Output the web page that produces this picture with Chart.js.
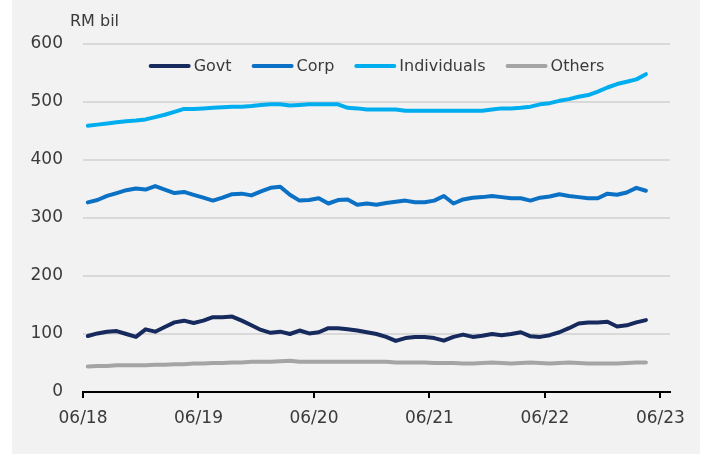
<!DOCTYPE html>
<html>
<head>
<meta charset="utf-8">
<script src="https://cdn.jsdelivr.net/npm/chart.js@4.4.1/dist/chart.umd.min.js"></script>
<style>
  html, body { margin: 0; padding: 0; background: #ffffff; }
  #wrap { position: absolute; left: 12px; top: 0; width: 688px; height: 454px; background: #f2f2f2; }
</style>
</head>
<body>
<div id="wrap"><canvas id="holdingsChart"></canvas></div>
<script>
// Drzanje po sektorima, mjesecno od 06/18 (RM bil)
const unitLabel = 'RM bil';
const xTickLabels = ['06/18', '06/19', '06/20', '06/21', '06/22', '06/23'];

const govt = [96.5, 101, 104, 105, 100, 95, 108, 104, 112, 120, 123, 119, 123, 129, 129, 130, 123, 115, 107, 102,
  104, 100, 106, 101, 103, 110, 110, 108, 106, 103, 100, 95, 88, 93, 95, 95, 93, 88.5, 95, 99,
  95, 97, 100, 98, 100, 103, 96, 95, 98, 103, 110, 118, 120, 120, 121, 113, 115, 120, 124];
const corp = [327, 331, 338, 343, 348, 351, 349, 355, 349, 343, 345, 340, 335, 330, 335, 341, 342, 339, 346, 352,
  354, 340, 330, 331, 334, 325, 331, 332, 323, 325, 323, 326, 328, 330, 327, 327, 330, 338, 325, 332,
  335, 336, 338, 336, 334, 334, 330, 335, 337, 341, 338, 336, 334, 334, 342, 340, 344, 352, 347];
const individuals = [459, 461, 463, 465, 467, 468, 470, 474, 478, 483, 488, 488, 489, 490, 491, 492, 492, 493, 495, 496,
  496, 494, 495, 496, 496, 496, 496, 490, 489, 487, 487, 487, 487, 485, 485, 485, 485, 485, 485, 485,
  485, 485, 487, 489, 489, 490, 492, 496, 498, 502, 505, 509, 512, 518, 525, 531, 535, 539, 548];
const others = [44, 45, 45, 46, 46, 46, 46, 47, 47, 48, 48, 49, 49, 50, 50, 51, 51, 52, 52, 52,
  53, 54, 52, 52, 52, 52, 52, 52, 52, 52, 52, 52, 51, 51, 51, 51, 50, 50, 50, 49,
  49, 50, 51, 50, 49, 50, 51, 50, 49, 50, 51, 50, 49, 49, 49, 49, 50, 51, 51];

const textColor = '#3a3a3a';
const gridColor = '#d9d9d9';
const fontFamily = '"DejaVu Sans", sans-serif';

// mjesecni podaci na kraju mjeseca -> pola mjeseca iza oznake
const toPoints = (arr) => arr.map((v, i) => ({ x: i + 0.5, y: v }));

const line = (label, data, color) => ({
  label,
  data: toPoints(data),
  borderColor: color,
  backgroundColor: color,
  borderWidth: 4,
  pointRadius: 0,
  tension: 0,
  fill: false,
  borderCapStyle: 'round',
  borderJoinStyle: 'round',
});

// legenda i jedinica unutar grafa
const overlay = {
  id: 'overlay',
  afterDraw(chart) {
    const { ctx, chartArea } = chart;
    ctx.save();
    ctx.font = '16px ' + fontFamily;
    ctx.textBaseline = 'middle';
    ctx.textAlign = 'left';
    ctx.fillStyle = textColor;
    ctx.fillText(unitLabel, chartArea.left - 13, chartArea.top - 22);

    const lineLen = 42, gap = 3, spacing = 20;
    const items = chart.data.datasets.map(ds => ({
      label: ds.label, color: ds.borderColor, w: ctx.measureText(ds.label).width,
    }));
    const total = items.reduce((s, it) => s + lineLen + gap + it.w, 0) + spacing * (items.length - 1);
    let x = (chartArea.left + chartArea.right) / 2 - total / 2;
    const y = chartArea.top + 22;
    items.forEach(it => {
      ctx.strokeStyle = it.color;
      ctx.lineWidth = 4;
      ctx.lineCap = 'round';
      ctx.beginPath();
      ctx.moveTo(x + 2, y);
      ctx.lineTo(x + lineLen - 2, y);
      ctx.stroke();
      ctx.fillStyle = textColor;
      ctx.fillText(it.label, x + lineLen + gap, y + 1);
      x += lineLen + gap + it.w + spacing;
    });
    ctx.restore();
  },
};

const ctx = document.getElementById('holdingsChart').getContext('2d');
new Chart(ctx, {
  type: 'line',
  data: {
    datasets: [
      line('Govt', govt, '#172a5e'),
      line('Corp', corp, '#0a71c5'),
      line('Individuals', individuals, '#00aeef'),
      line('Others', others, '#a5a5a5'),
    ],
  },
  options: {
    responsive: true,
    maintainAspectRatio: false,
    animation: false,
    layout: { padding: { top: 44, right: 30, bottom: 0, left: 0 } },
    plugins: {
      legend: { display: false },
      tooltip: { enabled: false },
    },
    scales: {
      x: {
        type: 'linear',
        min: 0,
        max: 61,
        afterBuildTicks: (axis) => { axis.ticks = [0, 12, 24, 36, 48, 60].map(v => ({ value: v })); },
        afterFit: (axis) => { axis.height = 62; },
        ticks: {
          color: textColor,
          font: { family: fontFamily, size: 17 },
          padding: 10,
          maxRotation: 0,
          autoSkip: false,
          callback: (v) => xTickLabels[Math.round(v / 12)],
        },
        grid: { drawOnChartArea: false, drawTicks: true, tickLength: 6, color: '#000000', lineWidth: 2 },
        border: { display: true, color: '#000000', width: 2 },
      },
      y: {
        min: 0,
        max: 600,
        afterFit: (axis) => { axis.width = 71; },
        ticks: {
          stepSize: 100,
          color: textColor,
          font: { family: fontFamily, size: 17 },
          padding: 20,
        },
        grid: {
          drawTicks: false,
          color: (c) => c.tick && c.tick.value === 0 ? 'rgba(0,0,0,0)' : gridColor,
          lineWidth: 2,
        },
        border: { display: false },
      },
    },
  },
  plugins: [overlay],
});
</script>
</body>
</html>
